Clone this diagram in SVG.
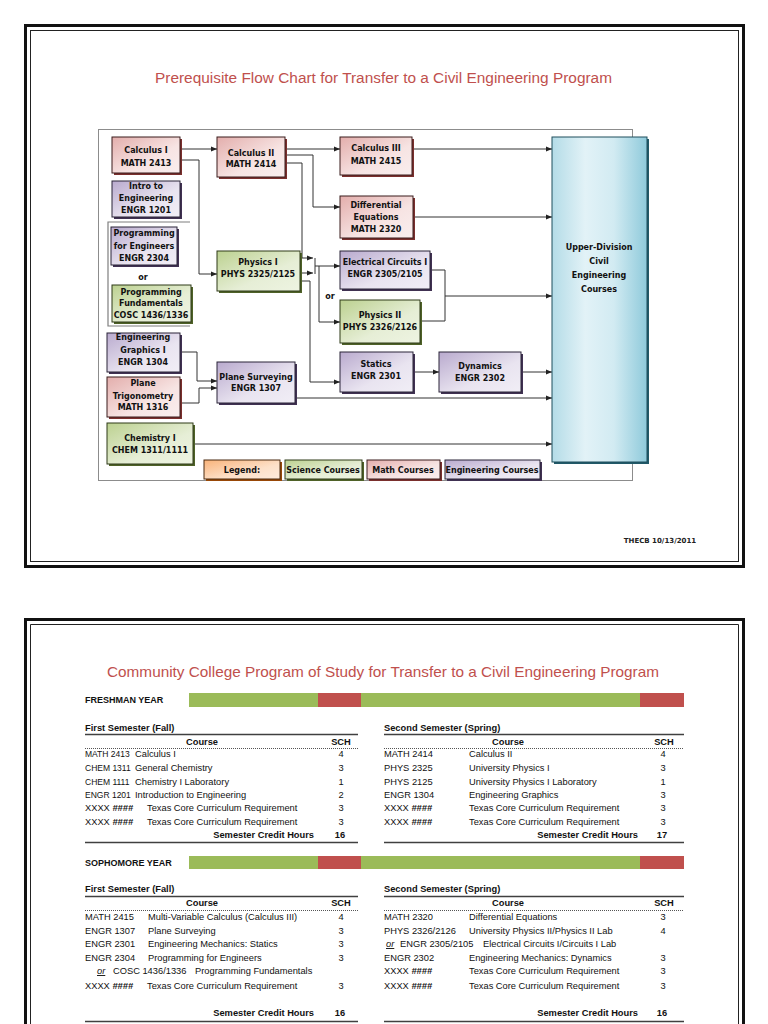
<svg xmlns="http://www.w3.org/2000/svg" width="768" height="1024" viewBox="0 0 768 1024">
<defs>
<style>
.frameO{fill:none;stroke:#111;stroke-width:3}
.frameI{fill:none;stroke:#222;stroke-width:1}
.title{font-family:"Liberation Sans",Arial,sans-serif;font-size:14px;fill:#c0504d}
.nt{font-family:"DejaVu Sans",Verdana,sans-serif;font-weight:bold;font-size:8px;fill:#111;text-anchor:middle}
.math{fill:url(#gm);stroke:#3a1c1c;stroke-width:1}
.eng{fill:url(#ge);stroke:#2b2438;stroke-width:1}
.sci{fill:url(#gs);stroke:#2f3a18;stroke-width:1}
.leg{fill:url(#gl);stroke:#4a2a10;stroke-width:1}
.shm{fill:#7a2f2d}
.she{fill:#403152}
.shs{fill:#4f6228}
.shl{fill:#984807}
.cn{fill:none;stroke:#333;stroke-width:1}
.cn2{fill:none;stroke:#333;stroke-width:1;marker-end:url(#ar)}
.brk{fill:none;stroke:#7f7f7f;stroke-width:1.2}
.tt{font-family:"Liberation Sans",Arial,sans-serif;font-size:9.3px;fill:#111}
.tc{font-family:"Liberation Sans",Arial,sans-serif;font-size:8.5px;fill:#111}
.tb{font-family:"Liberation Sans",Arial,sans-serif;font-size:9.3px;font-weight:bold;fill:#111}
.bi{font-weight:bold;font-style:italic}
.ctr{text-anchor:middle}
.end{text-anchor:end}
.hl{stroke:#404040;stroke-width:1.5}
.dl{stroke:#555;stroke-width:1;stroke-dasharray:1,1}
.yr{font-family:"Liberation Sans",Arial,sans-serif;font-size:9px;font-weight:bold;fill:#111}
</style>
<linearGradient id="gm" x1="0" y1="0" x2="1" y2="1"><stop offset="0" stop-color="#e3aeac"/><stop offset="0.6" stop-color="#f7e4e3"/><stop offset="1" stop-color="#f9eeee"/></linearGradient>
<linearGradient id="ge" x1="0" y1="0" x2="1" y2="1"><stop offset="0" stop-color="#b9aace"/><stop offset="0.6" stop-color="#e9e4f0"/><stop offset="1" stop-color="#f1eef6"/></linearGradient>
<linearGradient id="gs" x1="0" y1="0" x2="1" y2="1"><stop offset="0" stop-color="#bcd190"/><stop offset="0.6" stop-color="#e6eed6"/><stop offset="1" stop-color="#eef4e2"/></linearGradient>
<linearGradient id="gl" x1="0" y1="0" x2="1" y2="1"><stop offset="0" stop-color="#f9b37a"/><stop offset="0.6" stop-color="#fde0c8"/><stop offset="1" stop-color="#fdebdc"/></linearGradient>
<linearGradient id="gu" x1="0" y1="0" x2="1" y2="0"><stop offset="0" stop-color="#b4dce7"/><stop offset="0.35" stop-color="#e2f2f7"/><stop offset="0.65" stop-color="#d2ebf2"/><stop offset="1" stop-color="#8fcadb"/></linearGradient>
<marker id="ar" markerUnits="userSpaceOnUse" markerWidth="6" markerHeight="6" refX="6" refY="3" orient="auto"><path d="M0,0.5 L6,3 L0,5.5 z" fill="#222"/></marker>
</defs>
<rect width="768" height="1024" fill="#fff"/>

<!-- Page 1 frame -->
<g id="page1">
<rect class="frameO" x="25.5" y="25.5" width="718" height="541"/>
<rect class="frameI" x="30.5" y="30.5" width="708" height="531"/>
<text class="title" x="383.5" y="83" text-anchor="middle" textLength="457" lengthAdjust="spacingAndGlyphs">Prerequisite Flow Chart for Transfer to a Civil Engineering Program</text>
<rect x="98.5" y="129.5" width="534" height="351" fill="none" stroke="#8c8c8c" stroke-width="1"/>
<text x="660" y="543" style="font-family:'DejaVu Sans',Verdana,sans-serif;font-weight:bold;font-size:7px;fill:#222" text-anchor="middle">THECB 10/13/2011</text>
</g>

<!-- Connectors -->
<g id="connectors">
<path class="brk" d="M190,222 H108 V326 H190"/>
<path class="cn2" d="M180,149 H217"/>
<path class="cn2" d="M180,160 H199 V274 H217"/>
<path class="cn2" d="M285,149 H340"/>
<path class="cn2" d="M285,155 H313 V207 H340"/>
<path class="cn2" d="M285,163 H302 V258 H313"/>
<path class="cn2" d="M300,273 H313"/>
<path class="cn" d="M315,258 V274"/>
<path class="cn2" d="M315,266 H340"/>
<path class="cn2" d="M319,266 V322 H340"/>
<path class="cn2" d="M300,281 H310 V382 H340"/>
<path class="cn2" d="M412,149 H552"/>
<path class="cn2" d="M413,217 H552"/>
<path class="cn" d="M430,270 H445 V321 H420"/>
<path class="cn2" d="M445,296 H552"/>
<path class="cn2" d="M413,372 H439"/>
<path class="cn2" d="M521,372 H552"/>
<path class="cn2" d="M295,398 H552"/>
<path class="cn2" d="M193,444 H552"/>
<path class="cn2" d="M180,352 H197 V381 H217"/>
<path class="cn2" d="M180,403 H199 V388 H217"/>
</g>

<!-- Nodes -->
<g id="calc1"><rect class="shm" x="114" y="139" width="68" height="36"/><rect class="math" x="112" y="137" width="68" height="36"/><text class="nt" x="146" y="153">Calculus I</text><text class="nt" x="146" y="166">MATH 2413</text></g>
<g id="intro"><rect class="she" x="114" y="183" width="68" height="36"/><rect class="eng" x="112" y="181" width="68" height="36"/><text class="nt" x="146" y="189">Intro to</text><text class="nt" x="146" y="201">Engineering</text><text class="nt" x="146" y="213">ENGR 1201</text></g>
<g id="prog"><rect class="she" x="113" y="229" width="66" height="38"/><rect class="eng" x="111" y="227" width="66" height="38"/><text class="nt" x="144" y="236">Programming</text><text class="nt" x="144" y="249">for Engineers</text><text class="nt" x="144" y="261">ENGR 2304</text></g>
<g id="or1"><text class="nt" x="143" y="280">or</text></g>
<g id="progfund"><rect class="shs" x="114" y="287" width="79" height="37"/><rect class="sci" x="112" y="285" width="79" height="37"/><text class="nt" x="151" y="295">Programming</text><text class="nt" x="151" y="306">Fundamentals</text><text class="nt" x="151" y="318">COSC 1436/1336</text></g>
<g id="enggraph"><rect class="she" x="109" y="335" width="73" height="39"/><rect class="eng" x="107" y="333" width="73" height="39"/><text class="nt" x="143" y="340">Engineering</text><text class="nt" x="143" y="353">Graphics I</text><text class="nt" x="143" y="365">ENGR 1304</text></g>
<g id="planetrig"><rect class="shm" x="109" y="379" width="73" height="40"/><rect class="math" x="107" y="377" width="73" height="40"/><text class="nt" x="143" y="386">Plane</text><text class="nt" x="143" y="399">Trigonometry</text><text class="nt" x="143" y="410">MATH 1316</text></g>
<g id="chem"><rect class="shs" x="109" y="425" width="86" height="41"/><rect class="sci" x="107" y="423" width="86" height="41"/><text class="nt" x="150" y="441">Chemistry I</text><text class="nt" x="150" y="453">CHEM 1311/1111</text></g>
<g id="calc2"><rect class="shm" x="219" y="139" width="68" height="40"/><rect class="math" x="217" y="137" width="68" height="40"/><text class="nt" x="251" y="156">Calculus II</text><text class="nt" x="251" y="167">MATH 2414</text></g>
<g id="phys1"><rect class="shs" x="219" y="253" width="83" height="40"/><rect class="sci" x="217" y="251" width="83" height="40"/><text class="nt" x="258" y="265">Physics I</text><text class="nt" x="258" y="277">PHYS 2325/2125</text></g>
<g id="planesurv"><rect class="she" x="219" y="364" width="78" height="41"/><rect class="eng" x="217" y="362" width="78" height="41"/><text class="nt" x="256" y="380">Plane Surveying</text><text class="nt" x="256" y="391">ENGR 1307</text></g>
<g id="calc3"><rect class="shm" x="342" y="139" width="72" height="38"/><rect class="math" x="340" y="137" width="72" height="38"/><text class="nt" x="376" y="151">Calculus III</text><text class="nt" x="376" y="164">MATH 2415</text></g>
<g id="diffeq"><rect class="shm" x="342" y="198" width="73" height="42"/><rect class="math" x="340" y="196" width="73" height="42"/><text class="nt" x="376" y="208">Differential</text><text class="nt" x="376" y="220">Equations</text><text class="nt" x="376" y="232">MATH 2320</text></g>
<g id="elec"><rect class="she" x="342" y="253" width="90" height="38"/><rect class="eng" x="340" y="251" width="90" height="38"/><text class="nt" x="385" y="265">Electrical Circuits I</text><text class="nt" x="385" y="277">ENGR 2305/2105</text></g>
<g id="or2"><text class="nt" x="330" y="299">or</text></g>
<g id="phys2"><rect class="shs" x="342" y="302" width="80" height="43"/><rect class="sci" x="340" y="300" width="80" height="43"/><text class="nt" x="380" y="318">Physics II</text><text class="nt" x="380" y="330">PHYS 2326/2126</text></g>
<g id="statics"><rect class="she" x="342" y="354" width="73" height="40"/><rect class="eng" x="340" y="352" width="73" height="40"/><text class="nt" x="376" y="367">Statics</text><text class="nt" x="376" y="379">ENGR 2301</text></g>
<g id="dynamics"><rect class="she" x="441" y="354" width="82" height="40"/><rect class="eng" x="439" y="352" width="82" height="40"/><text class="nt" x="480" y="369">Dynamics</text><text class="nt" x="480" y="381">ENGR 2302</text></g>
<g id="upper"><rect x="554" y="139" width="95" height="325" fill="#215968"/><rect x="552" y="137" width="95" height="325" fill="url(#gu)" stroke="#1f4e5c" stroke-width="1"/><text class="nt" x="599" y="250">Upper-Division</text><text class="nt" x="599" y="264">Civil</text><text class="nt" x="599" y="278">Engineering</text><text class="nt" x="599" y="292">Courses</text></g>
<g id="legend"><rect class="shl" x="206" y="462" width="76" height="19"/><rect class="leg" x="204" y="460" width="76" height="19"/><text class="nt" x="242" y="473">Legend:</text></g>
<g id="leg-sci"><rect class="shs" x="287" y="462" width="77" height="19"/><rect class="sci" x="285" y="460" width="77" height="19"/><text class="nt" x="323" y="473">Science Courses</text></g>
<g id="leg-math"><rect class="shm" x="369" y="462" width="73" height="19"/><rect class="math" x="367" y="460" width="73" height="19"/><text class="nt" x="403" y="473">Math Courses</text></g>
<g id="leg-eng"><rect class="she" x="447" y="462" width="95" height="19"/><rect class="eng" x="445" y="460" width="95" height="19"/><text class="nt" x="492" y="473">Engineering Courses</text></g>

<!-- Page 2 -->
<g id="page2">
<path class="frameO" d="M25.5,1030 V619.5 H743.5 V1030"/>
<path class="frameI" d="M30.5,1030 V624.5 H738.5 V1030"/>
<text class="title" x="383" y="677" text-anchor="middle" textLength="552" lengthAdjust="spacingAndGlyphs" style="font-size:15px">Community College Program of Study for Transfer to a Civil Engineering Program</text>

<text class="yr" x="85" y="703">FRESHMAN YEAR</text>
<rect x="189" y="693" width="129" height="14" fill="#9bbb59"/>
<rect x="318" y="693" width="43" height="14" fill="#c0504d"/>
<rect x="361" y="693" width="279" height="14" fill="#9bbb59"/>
<rect x="640" y="693" width="44" height="14" fill="#c0504d"/>

<!-- Freshman Fall -->
<text class="tb" x="85" y="731">First Semester (Fall)</text>
<line class="hl" x1="85" y1="734.5" x2="358" y2="734.5"/>
<text class="tb ctr" x="202" y="745">Course</text>
<text class="tb ctr" x="341" y="745">SCH</text>
<line class="dl" x1="85" y1="748.5" x2="358" y2="748.5"/>
<text class="tc" x="85" y="757">MATH 2413</text><text class="tt" x="135" y="757">Calculus I</text><text class="tt ctr" x="341" y="757">4</text>
<text class="tc" x="85" y="771">CHEM 1311</text><text class="tt" x="135" y="771">General Chemistry</text><text class="tt ctr" x="341" y="771">3</text>
<text class="tc" x="85" y="785">CHEM 1111</text><text class="tt" x="135" y="785">Chemistry I Laboratory</text><text class="tt ctr" x="341" y="785">1</text>
<text class="tc" x="85" y="798">ENGR 1201</text><text class="tt" x="135" y="798">Introduction to Engineering</text><text class="tt ctr" x="341" y="798">2</text>
<text class="tt" x="85" y="811">XXXX <tspan class="bi">####</tspan></text><text class="tt" x="147" y="811">Texas Core Curriculum Requirement</text><text class="tt ctr" x="341" y="811">3</text>
<text class="tt" x="85" y="825">XXXX <tspan class="bi">####</tspan></text><text class="tt" x="147" y="825">Texas Core Curriculum Requirement</text><text class="tt ctr" x="341" y="825">3</text>
<text class="tb end" x="314" y="838">Semester Credit Hours</text><text class="tb ctr" x="340" y="838">16</text>
<line class="hl" x1="85" y1="842.5" x2="358" y2="842.5"/>

<!-- Freshman Spring -->
<text class="tb" x="384" y="731">Second Semester (Spring)</text>
<line class="hl" x1="384" y1="734.5" x2="684" y2="734.5"/>
<text class="tb ctr" x="508" y="745">Course</text>
<text class="tb ctr" x="664" y="745">SCH</text>
<line class="dl" x1="384" y1="748.5" x2="684" y2="748.5"/>
<text class="tt" x="384" y="757">MATH 2414</text><text class="tt" x="469" y="757">Calculus II</text><text class="tt ctr" x="663" y="757">4</text>
<text class="tt" x="384" y="771">PHYS 2325</text><text class="tt" x="469" y="771">University Physics I</text><text class="tt ctr" x="663" y="771">3</text>
<text class="tt" x="384" y="785">PHYS 2125</text><text class="tt" x="469" y="785">University Physics I Laboratory</text><text class="tt ctr" x="663" y="785">1</text>
<text class="tt" x="384" y="798">ENGR 1304</text><text class="tt" x="469" y="798">Engineering Graphics</text><text class="tt ctr" x="663" y="798">3</text>
<text class="tt" x="384" y="811">XXXX <tspan class="bi">####</tspan></text><text class="tt" x="469" y="811">Texas Core Curriculum Requirement</text><text class="tt ctr" x="663" y="811">3</text>
<text class="tt" x="384" y="825">XXXX <tspan class="bi">####</tspan></text><text class="tt" x="469" y="825">Texas Core Curriculum Requirement</text><text class="tt ctr" x="663" y="825">3</text>
<text class="tb end" x="638" y="838">Semester Credit Hours</text><text class="tb ctr" x="662" y="838">17</text>
<line class="hl" x1="384" y1="842.5" x2="684" y2="842.5"/>

<text class="yr" x="85" y="866">SOPHOMORE YEAR</text>
<rect x="189" y="856" width="129" height="13" fill="#9bbb59"/>
<rect x="318" y="856" width="43" height="13" fill="#c0504d"/>
<rect x="361" y="856" width="279" height="13" fill="#9bbb59"/>
<rect x="640" y="856" width="44" height="13" fill="#c0504d"/>

<!-- Sophomore Fall -->
<text class="tb" x="85" y="892">First Semester (Fall)</text>
<line class="hl" x1="85" y1="896.5" x2="358" y2="896.5"/>
<text class="tb ctr" x="202" y="906">Course</text>
<text class="tb ctr" x="341" y="906">SCH</text>
<line class="dl" x1="85" y1="910.5" x2="358" y2="910.5"/>
<text class="tt" x="85" y="920">MATH 2415</text><text class="tt" x="148" y="920">Multi-Variable Calculus (Calculus III)</text><text class="tt ctr" x="341" y="920">4</text>
<text class="tt" x="85" y="934">ENGR 1307</text><text class="tt" x="148" y="934">Plane Surveying</text><text class="tt ctr" x="341" y="934">3</text>
<text class="tt" x="85" y="947">ENGR 2301</text><text class="tt" x="148" y="947">Engineering Mechanics: Statics</text><text class="tt ctr" x="341" y="947">3</text>
<text class="tt" x="85" y="961">ENGR 2304</text><text class="tt" x="148" y="961">Programming for Engineers</text><text class="tt ctr" x="341" y="961">3</text>
<text class="tt" x="97" y="974" style="font-style:italic;text-decoration:underline">or</text><text class="tt" x="113" y="974">COSC 1436/1336</text><text class="tt" x="195" y="974">Programming Fundamentals</text>
<text class="tt" x="85" y="989">XXXX <tspan class="bi">####</tspan></text><text class="tt" x="147" y="989">Texas Core Curriculum Requirement</text><text class="tt ctr" x="341" y="989">3</text>
<text class="tb end" x="314" y="1016">Semester Credit Hours</text><text class="tb ctr" x="340" y="1016">16</text>
<line class="hl" x1="85" y1="1021.5" x2="358" y2="1021.5"/>

<!-- Sophomore Spring -->
<text class="tb" x="384" y="892">Second Semester (Spring)</text>
<line class="hl" x1="384" y1="896.5" x2="684" y2="896.5"/>
<text class="tb ctr" x="508" y="906">Course</text>
<text class="tb ctr" x="664" y="906">SCH</text>
<line class="dl" x1="384" y1="910.5" x2="684" y2="910.5"/>
<text class="tt" x="384" y="920">MATH 2320</text><text class="tt" x="469" y="920">Differential Equations</text><text class="tt ctr" x="663" y="920">3</text>
<text class="tt" x="384" y="934">PHYS 2326/2126</text><text class="tt" x="469" y="934">University Physics II/Physics II Lab</text><text class="tt ctr" x="663" y="934">4</text>
<text class="tt" x="386" y="947" style="font-style:italic;text-decoration:underline">or</text><text class="tt" x="400" y="947">ENGR 2305/2105</text><text class="tt" x="483" y="947">Electrical Circuits I/Circuits I Lab</text>
<text class="tt" x="384" y="961">ENGR 2302</text><text class="tt" x="469" y="961">Engineering Mechanics:  Dynamics</text><text class="tt ctr" x="663" y="961">3</text>
<text class="tt" x="384" y="974">XXXX <tspan class="bi">####</tspan></text><text class="tt" x="469" y="974">Texas Core Curriculum Requirement</text><text class="tt ctr" x="663" y="974">3</text>
<text class="tt" x="384" y="989">XXXX <tspan class="bi">####</tspan></text><text class="tt" x="469" y="989">Texas Core Curriculum Requirement</text><text class="tt ctr" x="663" y="989">3</text>
<text class="tb end" x="638" y="1016">Semester Credit Hours</text><text class="tb ctr" x="662" y="1016">16</text>
<line class="hl" x1="384" y1="1021.5" x2="684" y2="1021.5"/>
</g>
</svg>
